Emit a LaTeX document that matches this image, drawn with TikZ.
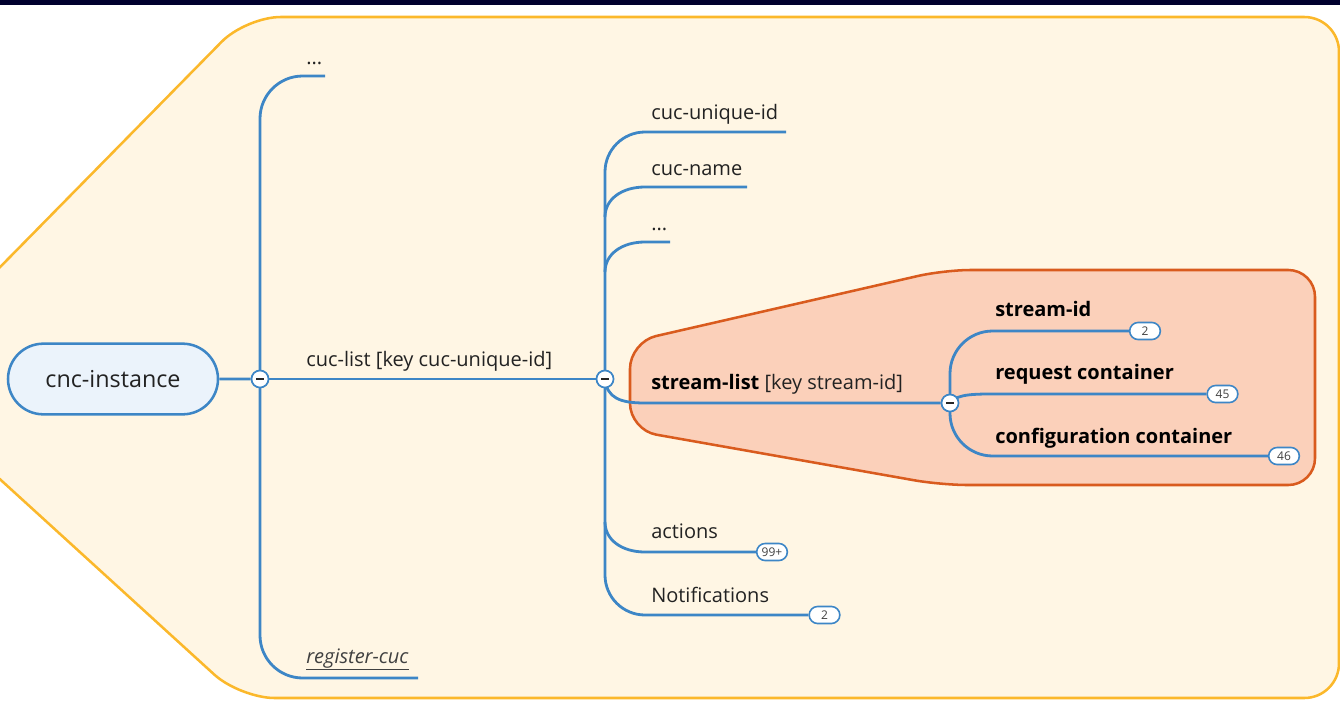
\documentclass[tikz,border=0pt]{standalone}
\usepackage{fontspec}
\setmainfont{Open Sans}
\usetikzlibrary{shapes.misc}
\pgfdeclarelayer{back}
\pgfdeclarelayer{mid}
\pgfsetlayers{back,mid,main}

\definecolor{navy}{HTML}{00002E}
\definecolor{yfill}{HTML}{FFF6E4}
\definecolor{yline}{HTML}{FBB82B}
\definecolor{ofill}{HTML}{FBD0BA}
\definecolor{oline}{HTML}{D95B1E}
\definecolor{blu}{HTML}{3D86C6}
\definecolor{nodefill}{HTML}{EBF3FB}
\definecolor{txt}{HTML}{222222}

\begin{document}
\begin{tikzpicture}[x=0.75pt,y=-0.75pt,
  conn/.style={draw=blu, line width=2.1pt},
  lbl/.style={anchor=base west, inner sep=0pt, font=\fontsize{15}{18}\selectfont, text=txt},
  blbl/.style={anchor=base west, inner sep=0pt, font=\fontsize{15}{18}\selectfont\bfseries, text=black},
  root/.style={rounded rectangle, draw=blu, fill=nodefill, line width=1.9pt, minimum width=157.5pt, minimum height=53pt, inner sep=0pt, font=\fontsize{17.5}{20}\selectfont, text=txt},
  collapse/.style={circle, draw=blu, fill=white, line width=1.3pt, minimum size=12.8pt, inner sep=0pt,
    path picture={\draw[line width=1.4pt, black!85] ([xshift=-3pt]path picture bounding box.center) -- ([xshift=3pt]path picture bounding box.center);}},
  badge/.style={rounded rectangle, draw=blu, fill=white, line width=1.2pt, minimum width=23pt, minimum height=12.8pt, inner sep=0pt, font=\fontsize{9}{10}\selectfont, text=black!75},
]
\useasboundingbox (0,0) rectangle (1340,704);
\clip (0,0) rectangle (1340,704);

% nodes
\node[root] (root) at (113,379) {cnc-instance};
\node[collapse] (c1) at (260,379) {};
\node[collapse] (c2) at (605,379) {};
\node[collapse] (c3) at (950,403) {};

\node[badge] (b-act) at (772,552) {99+};
\node[badge] (b-not) at (824.5,615) {2};
\node[badge] (b-sid) at (1145,331) {2};
\node[badge] (b-req) at (1222.5,394) {45};
\node[badge] (b-cfg) at (1284,456) {46};

\coordinate (e-dots1) at (325,76);
\coordinate (e-reg) at (418,678);
\coordinate (e-uid) at (786,132);
\coordinate (e-name) at (747,187);
\coordinate (e-dots2) at (670,242);
\coordinate (j-name) at (605,217);
\coordinate (j-dots) at (605,272);
\coordinate (j-act) at (605,522);

% labels
\node[lbl] (t-dots1) at (306,64) {...};
\node[lbl] (t-cuc) at (306,366) {cuc-list [key cuc-unique-id]};
\node[lbl, text=black!75] (t-reg) at (306,663) {\underline{\itshape register-cuc}};
\node[lbl] (t-uid) at (651,119) {cuc-unique-id};
\node[lbl] (t-name) at (651,175) {cuc-name};
\node[lbl] (t-dots2) at (651,230) {...};
\node[lbl] (t-sl) at (651,389) {\textbf{\color{black}stream-list} [key stream-id]};
\node[lbl] (t-act) at (651,538) {actions};
\node[lbl] (t-not) at (651,602) {Notifications};
\node[blbl] (t-sid) at (995,316) {stream-id};
\node[blbl] (t-req) at (995,379) {request container};
\node[blbl] (t-cfg) at (995,443) {configuration container};

% background shapes
\begin{pgfonlayer}{back}
\fill[navy] (0,0) rectangle (1340,5);
\draw[yline, fill=yfill, line width=1.9pt, rounded corners=26]
  (-110,379) -- (246,17) -- (1339,17) -- (1339,698) -- (240,698) -- cycle;
\draw[oline, fill=ofill, line width=1.9pt, rounded corners=20]
  (630,342) -- (944,270) -- (1315,270) -- (1315,485) -- (941,485) -- (630,430) -- cycle;
\end{pgfonlayer}

% connectors
\begin{pgfonlayer}{mid}
\draw[conn] (root) -- (c1);
\draw[conn, rounded corners=32] (e-dots1) -| (c1.center);
\draw[conn, rounded corners=32] (c1.center) |- (e-reg);
\draw[conn] (c1) -- (c2);
\draw[conn, rounded corners=30] (e-uid) -| (c2.center);
\draw[conn, rounded corners=30] (c2.center) |- (b-not.west);
\draw[conn] (j-name) .. controls (605,199) and (622,187) .. (645,187) -- (e-name);
\draw[conn] (j-dots) .. controls (605,254) and (622,242) .. (645,242) -- (e-dots2);
\draw[conn] (j-act) .. controls (605,540) and (622,552) .. (645,552) -- (b-act.west);
\draw[conn] (c2.center) .. controls (607,398) and (620,403) .. (645,403) -- (c3);
\draw[conn, rounded corners=32] (b-sid.west) -| (c3.center);
\draw[conn, rounded corners=32] (c3.center) |- (b-cfg.west);
\draw[conn] (c3.center) .. controls (956,396) and (965,394) .. (990,394) -- (b-req.west);
\end{pgfonlayer}
\end{tikzpicture}
\end{document}
